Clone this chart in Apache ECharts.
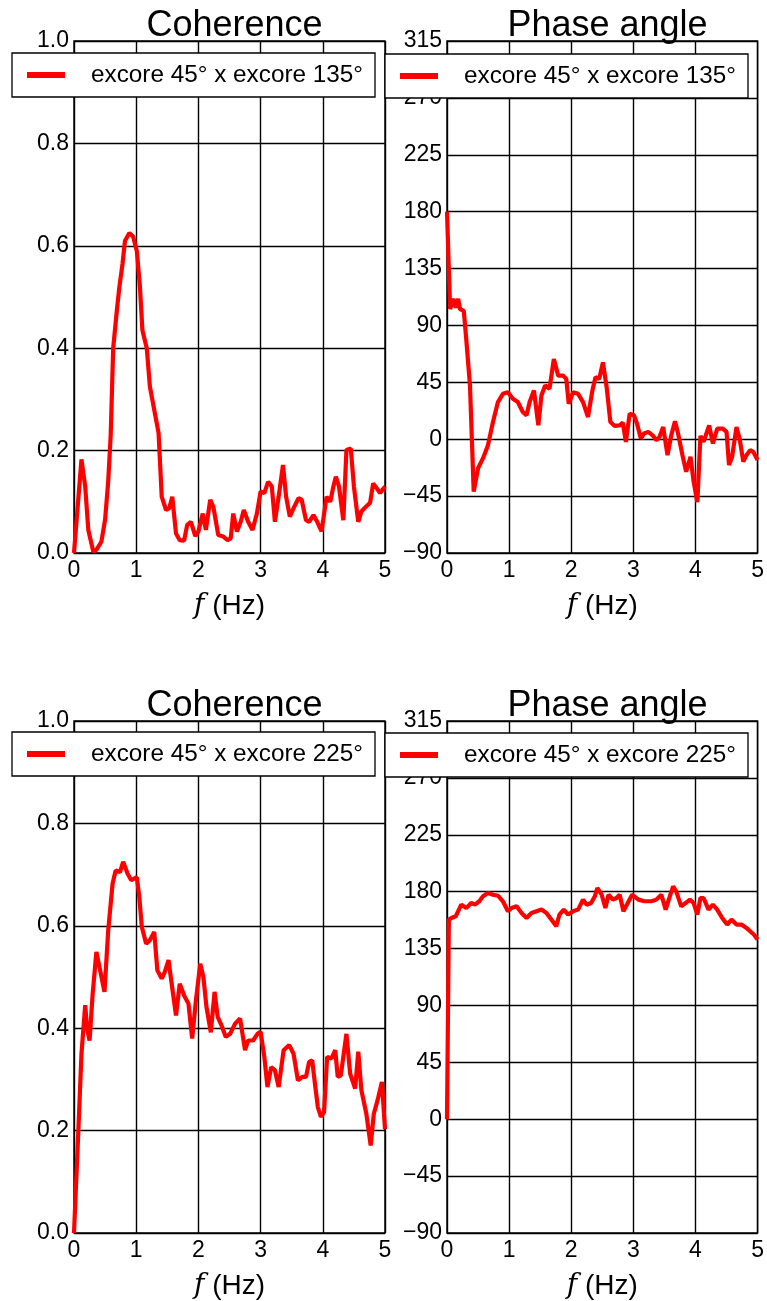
<!DOCTYPE html>
<html>
<head>
<meta charset="utf-8">
<script src="https://cdn.jsdelivr.net/npm/echarts@6/dist/echarts.min.js"></script>
<style>
  html, body { margin: 0; padding: 0; background: #fff; }
  #chart { width: 767px; height: 1301px; }
</style>
</head>
<body>
<div id="chart"></div>
<script>
// ---- Data ----
const xTicks = [0, 1, 2, 3, 4, 5];
const cohTicks = [0.0, 0.2, 0.4, 0.6, 0.8, 1.0];
const phaseTicks = [-90, -45, 0, 45, 90, 135, 180, 225, 270, 315];

const name135 = 'excore 45\u00b0 x excore 135\u00b0';
const name225 = 'excore 45\u00b0 x excore 225\u00b0';

// Coherence, excore 45° x excore 135°
const coh135F = [0, 0.12, 0.18, 0.23, 0.31, 0.36, 0.44, 0.50, 0.55, 0.59, 0.63, 0.69, 0.73, 0.78, 0.82, 0.89, 0.95, 1.01, 1.06, 1.10, 1.17, 1.22, 1.30, 1.36, 1.41, 1.48, 1.53, 1.58, 1.64, 1.70, 1.77, 1.82, 1.88, 1.95, 2.00, 2.07, 2.12, 2.19, 2.24, 2.32, 2.40, 2.47, 2.52, 2.56, 2.62, 2.68, 2.73, 2.80, 2.87, 2.94, 3.00, 3.06, 3.12, 3.18, 3.23, 3.29, 3.36, 3.41, 3.47, 3.54, 3.61, 3.66, 3.73, 3.78, 3.85, 3.91, 3.98, 4.06, 4.12, 4.17, 4.21, 4.26, 4.33, 4.38, 4.45, 4.50, 4.57, 4.62, 4.69, 4.76, 4.81, 4.87, 4.92, 5.00];
const coh135V = [0.0, 0.183, 0.13, 0.045, 0.003, 0.006, 0.022, 0.065, 0.14, 0.23, 0.40, 0.475, 0.52, 0.565, 0.61, 0.625, 0.618, 0.59, 0.52, 0.435, 0.40, 0.325, 0.273, 0.234, 0.11, 0.084, 0.087, 0.11, 0.038, 0.025, 0.024, 0.055, 0.061, 0.033, 0.042, 0.077, 0.045, 0.104, 0.09, 0.035, 0.032, 0.025, 0.029, 0.077, 0.042, 0.061, 0.084, 0.061, 0.045, 0.077, 0.12, 0.117, 0.139, 0.13, 0.061, 0.11, 0.172, 0.11, 0.071, 0.09, 0.107, 0.104, 0.064, 0.061, 0.074, 0.061, 0.042, 0.11, 0.10, 0.13, 0.149, 0.13, 0.064, 0.201, 0.204, 0.13, 0.061, 0.081, 0.09, 0.098, 0.136, 0.126, 0.117, 0.13];

// Phase angle, excore 45° x excore 135°
const ph135F = [0, 0.05, 0.10, 0.14, 0.18, 0.21, 0.27, 0.31, 0.37, 0.43, 0.50, 0.58, 0.66, 0.74, 0.82, 0.90, 0.98, 1.06, 1.14, 1.22, 1.28, 1.33, 1.40, 1.47, 1.52, 1.58, 1.65, 1.72, 1.79, 1.87, 1.92, 1.96, 2.03, 2.11, 2.19, 2.27, 2.34, 2.39, 2.45, 2.51, 2.57, 2.63, 2.70, 2.78, 2.83, 2.88, 2.94, 3.01, 3.06, 3.12, 3.17, 3.24, 3.31, 3.37, 3.42, 3.48, 3.55, 3.61, 3.67, 3.72, 3.79, 3.85, 3.92, 3.97, 4.03, 4.08, 4.13, 4.22, 4.28, 4.35, 4.44, 4.50, 4.54, 4.59, 4.66, 4.71, 4.77, 4.82, 4.88, 4.93, 5.00];
const ph135V = [180, 103, 111, 104, 111, 103, 101.5, 79, 42.5, -41.4, -23, -15, -4.7, 13.6, 29.4, 35.9, 37.2, 32, 29.4, 21.5, 18.9, 29.4, 38.5, 11, 34.6, 42.5, 39.9, 63.4, 50.3, 50.3, 47.7, 28, 37.2, 35.9, 29.4, 17.6, 38.5, 49, 47.7, 60.8, 41.2, 13.6, 10.5, 11, 13.1, -2.1, 20.2, 18.9, 12.3, 0.5, 4.5, 5.8, 3.1, -0.8, 1.8, 9.7, -12.6, 3.1, 14.2, 4.5, -12.6, -25.7, -13.9, -33.6, -49.8, 2.6, -2.1, 11, -3.4, 8.4, 8.4, 5.8, -20.5, -13.9, 9.7, 0.5, -17.8, -12.6, -8.7, -10, -16.5];

// Coherence, excore 45° x excore 225°
const coh225F = [0, 0.07, 0.12, 0.18, 0.21, 0.25, 0.30, 0.36, 0.43, 0.49, 0.55, 0.62, 0.67, 0.74, 0.79, 0.86, 0.92, 1.01, 1.05, 1.09, 1.16, 1.22, 1.29, 1.34, 1.41, 1.46, 1.52, 1.57, 1.64, 1.70, 1.77, 1.84, 1.90, 1.96, 2.03, 2.08, 2.13, 2.20, 2.26, 2.31, 2.37, 2.44, 2.51, 2.59, 2.67, 2.75, 2.80, 2.88, 2.95, 3.00, 3.06, 3.11, 3.17, 3.23, 3.29, 3.37, 3.46, 3.53, 3.60, 3.67, 3.73, 3.78, 3.83, 3.88, 3.92, 3.97, 4.02, 4.07, 4.14, 4.20, 4.24, 4.29, 4.38, 4.44, 4.52, 4.57, 4.62, 4.70, 4.77, 4.82, 4.88, 4.95, 5.00];
const coh225V = [0.0, 0.20, 0.35, 0.445, 0.40, 0.376, 0.467, 0.549, 0.507, 0.471, 0.591, 0.682, 0.708, 0.705, 0.725, 0.702, 0.689, 0.695, 0.656, 0.598, 0.565, 0.572, 0.588, 0.513, 0.497, 0.51, 0.533, 0.487, 0.425, 0.487, 0.464, 0.448, 0.38, 0.454, 0.526, 0.50, 0.441, 0.392, 0.471, 0.422, 0.406, 0.383, 0.389, 0.409, 0.419, 0.357, 0.376, 0.376, 0.389, 0.393, 0.344, 0.285, 0.324, 0.318, 0.285, 0.357, 0.367, 0.35, 0.298, 0.305, 0.305, 0.334, 0.337, 0.285, 0.246, 0.227, 0.236, 0.344, 0.341, 0.357, 0.305, 0.308, 0.389, 0.311, 0.282, 0.354, 0.279, 0.233, 0.171, 0.233, 0.259, 0.295, 0.203];

// Phase angle, excore 45° x excore 225°
const ph225F = [0, 0.03, 0.07, 0.14, 0.23, 0.31, 0.39, 0.45, 0.52, 0.58, 0.66, 0.74, 0.82, 0.90, 0.98, 1.04, 1.12, 1.20, 1.28, 1.36, 1.44, 1.52, 1.60, 1.68, 1.76, 1.81, 1.88, 1.95, 2.03, 2.11, 2.19, 2.25, 2.32, 2.38, 2.42, 2.49, 2.55, 2.60, 2.67, 2.73, 2.78, 2.84, 2.91, 2.98, 3.08, 3.18, 3.29, 3.37, 3.45, 3.52, 3.57, 3.64, 3.69, 3.77, 3.84, 3.91, 3.97, 4.03, 4.08, 4.13, 4.21, 4.28, 4.35, 4.43, 4.51, 4.58, 4.66, 4.74, 4.82, 4.88, 4.94, 5.00];
const ph225V = [0, 158, 159.2, 160.5, 169.7, 167, 171, 169.7, 172.4, 176.3, 179, 177.6, 176.8, 172.4, 164.5, 167.1, 168.4, 163.2, 159.2, 163.2, 164.5, 165.8, 163.2, 157.9, 152.6, 161.9, 165.8, 161.9, 164.5, 165.8, 173.7, 169.7, 171, 176.3, 182.9, 177.6, 167.1, 177.6, 173.7, 175, 177.6, 164.5, 171, 177.6, 173.7, 172.4, 172.4, 173.7, 177.6, 165.8, 173.7, 184.2, 180.3, 168.4, 171, 173.7, 171, 161.9, 175, 175, 165.8, 169.7, 165.8, 159.2, 154, 157.9, 154, 154, 151.3, 148.7, 146.1, 142.1];

// ---- Layout ----
const FONT = "'Liberation Sans', Arial, sans-serif";
const panels = [
  { left: 74,  top: 41,  title: 'Coherence',   name: name135, F: coh135F, V: coh135V, kind: 'coh', legLeft: 12,  legTop: 53 },
  { left: 447, top: 41,  title: 'Phase angle', name: name135, F: ph135F,  V: ph135V,  kind: 'ph',  legLeft: 385, legTop: 54 },
  { left: 74,  top: 721, title: 'Coherence',   name: name225, F: coh225F, V: coh225V, kind: 'coh', legLeft: 12,  legTop: 732 },
  { left: 447, top: 721, title: 'Phase angle', name: name225, F: ph225F,  V: ph225V,  kind: 'ph',  legLeft: 385, legTop: 733 }
];
const W = 311, H = 512;

const option = {
  animation: false,
  backgroundColor: '#fff',
  title: [], grid: [], xAxis: [], yAxis: [], legend: [], series: []
};

panels.forEach((p, i) => {
  option.title.push({
    text: p.title,
    left: p.left + W / 2,
    top: p.top - 38,
    textAlign: 'center',
    textStyle: { fontFamily: FONT, fontSize: 36, fontWeight: 'normal', color: '#000' }
  });
  option.grid.push({
    left: p.left, top: p.top, width: W, height: H,
    show: true, borderColor: '#000', borderWidth: 1.4, backgroundColor: 'transparent'
  });
  option.xAxis.push({
    type: 'value', gridIndex: i,
    min: xTicks[0], max: xTicks[xTicks.length - 1], interval: 1,
    axisLine: { show: false }, axisTick: { show: false },
    axisLabel: { fontFamily: FONT, fontSize: 23, color: '#000', margin: 6 },
    splitLine: { show: true, lineStyle: { color: '#000', width: 1.4 } },
    name: '{i|f} (Hz)', nameLocation: 'middle', nameGap: 39,
    nameTextStyle: {
      fontFamily: FONT, fontSize: 28, color: '#000',
      rich: { i: { fontFamily: "'DejaVu Serif', serif", fontStyle: 'italic', fontSize: 28, color: '#000' } }
    }
  });
  const ticks = p.kind === 'coh' ? cohTicks : phaseTicks;
  option.yAxis.push({
    type: 'value', gridIndex: i,
    min: ticks[0], max: ticks[ticks.length - 1],
    interval: ticks[1] - ticks[0],
    axisLine: { show: false }, axisTick: { show: false },
    axisLabel: {
      fontFamily: FONT, fontSize: 23, color: '#000', margin: 5,
      formatter: v => p.kind === 'coh' ? v.toFixed(1) : String(Math.round(v)).replace('-', '\u2212')
    },
    splitLine: { show: true, lineStyle: { color: '#000', width: 1.4 } }
  });
  option.legend.push({
    data: [p.name],
    left: p.legLeft, top: p.legTop,
    z: 20,
    icon: 'rect', itemWidth: 38, itemHeight: 6,
    itemStyle: { color: '#ff0000' },
    padding: [10, 12, 10, 15],
    backgroundColor: '#fff', borderColor: '#000', borderWidth: 1.3, borderRadius: 0,
    selectedMode: false,
    textStyle: { fontFamily: FONT, fontSize: 24.3, color: '#000', lineHeight: 24, padding: [0, 0, 0, 21] }
  });
  option.series.push({
    type: 'line', name: p.name,
    xAxisIndex: i, yAxisIndex: i,
    data: p.F.map((f, k) => [f, p.V[k]]),
    symbol: 'none', showSymbol: false,
    lineStyle: { color: '#ff0000', width: 4.2 },
    itemStyle: { color: '#ff0000' },
    z: 3
  });
});

const chart = echarts.init(document.getElementById('chart'), null, { renderer: 'canvas' });
chart.setOption(option);
</script>
</body>
</html>
